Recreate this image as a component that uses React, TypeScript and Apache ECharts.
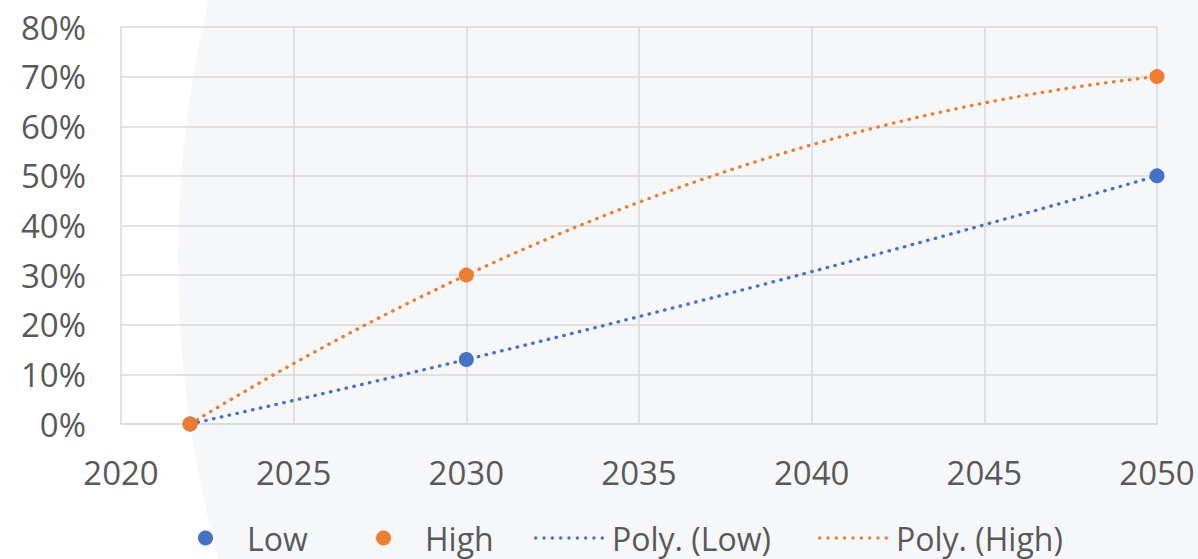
import React, { useEffect, useRef } from "react";
import * as echarts from "echarts";

// Observed shares by year
const years = [2022, 2030, 2050];
const lowValues = [0, 0.13, 0.5];
const highValues = [0, 0.3, 0.7];

const seriesNames = ["Low", "High", "Poly. (Low)", "Poly. (High)"];
const blue = "#4472C4";
const orange = "#ED7D31";
const textColor = "#595959";
const gridColor = "#D9D9D9";
const fontFamily = "'Open Sans', 'Noto Sans', sans-serif";

// Least-squares polynomial fit (order 2), solved from the normal equations.
function polyFit(xs: number[], ys: number[], order: number): number[] {
  const n = order + 1;
  const x0 = xs[0];
  const m: number[][] = Array.from({ length: n }, () => new Array(n + 1).fill(0));
  xs.forEach((xv, k) => {
    const t = xv - x0;
    for (let i = 0; i < n; i++) {
      for (let j = 0; j < n; j++) m[i][j] += Math.pow(t, i + j);
      m[i][n] += ys[k] * Math.pow(t, i);
    }
  });
  for (let c = 0; c < n; c++) {
    let p = c;
    for (let r = c + 1; r < n; r++) if (Math.abs(m[r][c]) > Math.abs(m[p][c])) p = r;
    [m[c], m[p]] = [m[p], m[c]];
    for (let r = 0; r < n; r++) {
      if (r === c) continue;
      const f = m[r][c] / m[c][c];
      for (let k = c; k <= n; k++) m[r][k] -= f * m[c][k];
    }
  }
  return m.map((row, i) => row[n] / row[i]);
}

function trendline(xs: number[], ys: number[]): number[][] {
  const coef = polyFit(xs, ys, 2);
  const x0 = xs[0];
  const out: number[][] = [];
  for (let x = xs[0]; x <= xs[xs.length - 1] + 1e-9; x += 0.25) {
    const t = x - x0;
    out.push([x, coef[0] + coef[1] * t + coef[2] * t * t]);
  }
  return out;
}

// Legend glyph for a dotted trendline: a row of small round dots.
function dottedIcon(): string {
  const r = 1.7;
  const count = 9;
  const span = 70 - 2 * r;
  let d = "";
  for (let k = 0; k < count; k++) {
    const cx = r + (span * k) / (count - 1);
    d += `M${(cx - r).toFixed(2)},${r} a${r},${r} 0 1,0 ${2 * r},0 a${r},${r} 0 1,0 ${-2 * r},0 Z `;
  }
  return "path://" + d.trim();
}

export default function App() {
  const ref = useRef<HTMLDivElement>(null);

  useEffect(() => {
    if (!ref.current) return;
    const chart = echarts.init(ref.current, undefined, { renderer: "svg" });

    const dotted = { type: [0.5, 7.5] as number[], cap: "round" as const, width: 3.3 };
    const legendText = { color: textColor, fontSize: 32, fontFamily, lineHeight: 34 };
    const legendTop = 521;
    const dots = dottedIcon();

    chart.setOption({
      animation: false,
      backgroundColor: "#ffffff",
      graphic: [
        {
          type: "circle",
          z: -10,
          silent: true,
          shape: { cx: 1304, cy: 260, r: 1126 },
          style: { fill: "#F6F7F9" },
        },
      ],
      grid: { left: 121, right: 41, top: 27, bottom: 135, containLabel: false },
      xAxis: {
        type: "value",
        min: 2020,
        max: 2050,
        interval: 5,
        axisLine: { show: true, lineStyle: { color: gridColor, width: 1.5 } },
        axisTick: { show: false },
        splitLine: { show: true, lineStyle: { color: gridColor, width: 1.5 } },
        axisLabel: {
          color: textColor,
          fontSize: 33,
          fontFamily,
          margin: 32,
          formatter: (v: number) => String(v),
        },
      },
      yAxis: {
        type: "value",
        min: 0,
        max: 0.8,
        interval: 0.1,
        axisLine: { show: false },
        axisTick: { show: false },
        splitLine: { show: true, lineStyle: { color: gridColor, width: 1.5 } },
        axisLabel: {
          color: textColor,
          fontSize: 33,
          fontFamily,
          margin: 35,
          formatter: (v: number) => `${Math.round(v * 100)}%`,
        },
      },
      // One legend block per entry so marker and line glyphs can have their own widths.
      legend: [
        {
          left: 198,
          itemWidth: 15,
          textStyle: { ...legendText, padding: [0, 0, 0, 29] },
          data: [{ name: seriesNames[0], icon: "circle" }],
        },
        {
          left: 376,
          itemWidth: 15,
          textStyle: { ...legendText, padding: [0, 0, 0, 29] },
          data: [{ name: seriesNames[1], icon: "circle" }],
        },
        {
          left: 534,
          itemWidth: 70,
          textStyle: { ...legendText, padding: [0, 0, 0, 3] },
          data: [{ name: seriesNames[2], icon: dots, itemStyle: { color: blue, borderWidth: 0 } }],
        },
        {
          left: 818,
          itemWidth: 70,
          textStyle: { ...legendText, padding: [0, 0, 0, 3] },
          data: [{ name: seriesNames[3], icon: dots, itemStyle: { color: orange, borderWidth: 0 } }],
        },
      ].map((l) => ({ ...l, top: legendTop, itemHeight: 15, padding: 0 })),
      series: [
        {
          name: seriesNames[2],
          type: "line",
          z: 2,
          symbol: "none",
          smooth: false,
          color: blue,
          lineStyle: { color: blue, ...dotted },
          data: trendline(years, lowValues),
        },
        {
          name: seriesNames[3],
          type: "line",
          z: 2,
          symbol: "none",
          smooth: false,
          color: orange,
          lineStyle: { color: orange, ...dotted },
          data: trendline(years, highValues),
        },
        {
          name: seriesNames[0],
          type: "scatter",
          z: 3,
          symbolSize: 15,
          itemStyle: { color: blue, opacity: 1 },
          data: years.map((y, i) => [y, lowValues[i]]),
        },
        {
          name: seriesNames[1],
          type: "scatter",
          z: 4,
          symbolSize: 15,
          itemStyle: { color: orange, opacity: 1 },
          data: years.map((y, i) => [y, highValues[i]]),
        },
      ],
    });

    return () => chart.dispose();
  }, []);

  return (
    <div
      ref={ref}
      style={{ position: "fixed", left: 0, top: 0, width: 1198, height: 559 }}
    />
  );
}
